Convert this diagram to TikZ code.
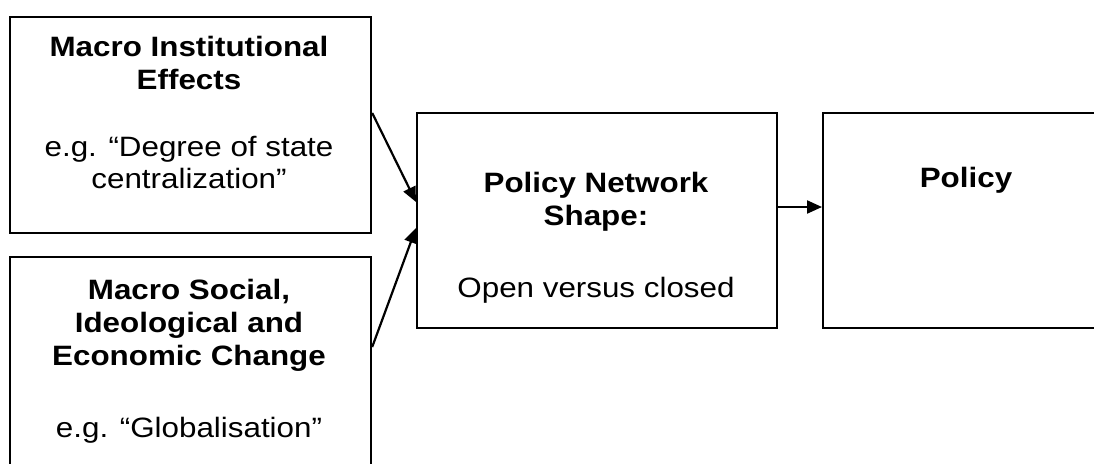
\documentclass[tikz,border=0pt]{standalone}
\usepackage{fontspec}
\setmainfont[FakeStretch=1.12]{Liberation Sans}
\usetikzlibrary{arrows.meta,calc}
\begin{document}
\begin{tikzpicture}[x=1pt,y=-1pt,
  box/.style={draw=black,line width=2.2pt,inner sep=0pt,anchor=north west},
  txt/.style={align=center,inner sep=0pt,anchor=base,font=\fontsize{28}{32}\selectfont},
  head/.style={txt,font=\fontsize{28}{33}\selectfont\bfseries},
  link/.style={line width=2.2pt,-{Triangle[length=15pt,width=13pt]}}]
\clip (0,0) rectangle (1094,463);

% boxes
\node[box,minimum width=361pt,minimum height=216pt] (inst) at (9,16) {};
\node[box,minimum width=361pt,minimum height=224pt] (soc) at (9,256) {};
\node[box,minimum width=360pt,minimum height=215pt] (net) at (416,112) {};
\node[box,minimum width=288pt,minimum height=215pt] (pol) at (822,112) {};

% box texts (positioned by the baseline of their last line)
\node[head] (instT) at (189,89) {Macro Institutional\\Effects};
\node[txt]  (instE) at (189,188) {e.g. “Degree of state\\centralization”};
\node[head] (socT) at (189,365) {Macro Social,\\Ideological and\\Economic Change};
\node[txt]  (socE) at (189,437) {e.g. “Globalisation”};
\node[head] (netT) at (596,225) {Policy Network\\Shape:};
\node[txt]  (netE) at (596,297) {Open versus closed};
\node[head] (polT) at (966,187) {Policy};

% connectors
\draw[link] ($(inst.north east)+(0,97)$) -- ($(net.north west)+(0,90)$);
\draw[link] ($(soc.north east)+(0,91)$) -- ($(net.north west)+(0,116)$);
\draw[link] ($(net.north east)+(0,95)$) -- ($(pol.north west)+(0,95)$);
\end{tikzpicture}
\end{document}
